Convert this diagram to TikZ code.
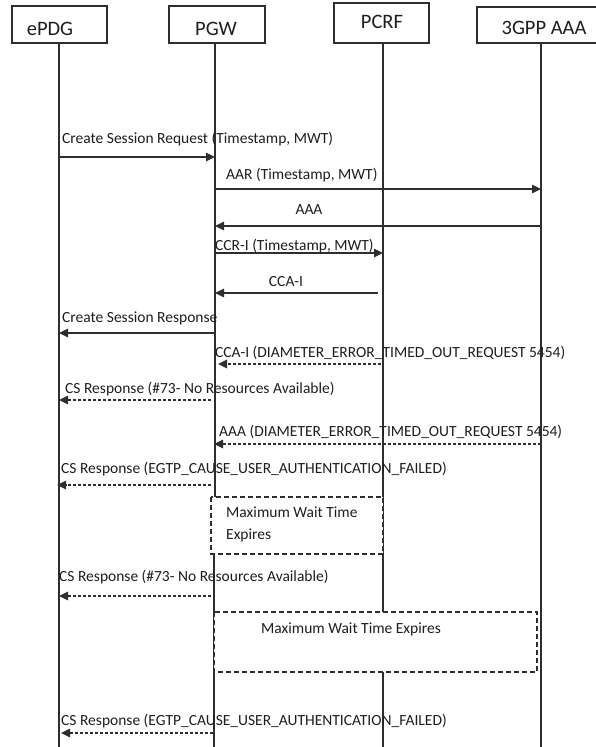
\documentclass[tikz,border=0pt]{standalone}
\usepackage{fontspec}
\setmainfont{Carlito}
\usetikzlibrary{arrows.meta}
\definecolor{ln}{HTML}{2E2E2E}
\definecolor{tx}{HTML}{1E1E1E}
\tikzset{
  actor/.style={draw=ln, line width=1.3pt, fill=white, inner sep=0pt},
  hdr/.style={text=tx, font=\fontsize{20.5}{24}\selectfont, inner sep=0pt},
  life/.style={draw=ln, line width=1.2pt},
  msg/.style={draw=ln, line width=1.6pt, -{Triangle[length=9pt,width=8.5pt]}},
  dmsg/.style={draw=ln, line width=1.6pt, dash pattern=on 3pt off 2pt, -{Triangle[length=9pt,width=8.5pt]}},
  lbl/.style={text=tx, font=\fontsize{15.5}{18}\selectfont, inner sep=0pt, anchor=west},
  waitbox/.style={draw=ln, line width=1.4pt, dash pattern=on 5pt off 3pt, fill=white},
}
\begin{document}
\begin{tikzpicture}[x=1pt,y=-1pt]
\useasboundingbox (0,0) rectangle (595,747);
% lifeline anchors
\coordinate (lE) at (59,43);
\coordinate (lP) at (215,43);
\coordinate (lC) at (383,43);
\coordinate (lA) at (541,43);
\coordinate (bE) at (59,747);
\coordinate (bP) at (214,747);
\coordinate (bC) at (383,747);
\coordinate (bA) at (541,747);
% lifelines
\draw[life] (lE) -- (bE);
\draw[life] (lP) -- (lP |- 0,497);
\draw[life] (bP |- 0,554) -- (bP);
\draw[life] (lC) -- (bC);
\draw[life] (lA) -- (bA);
% actor boxes
\draw[actor] (12,6) rectangle (107,43);
\node[hdr] (tE) at (50,29) {ePDG};
\draw[actor] (169,6) rectangle (265,43);
\node[hdr] (tP) at (216,29) {PGW};
\draw[actor] (334,3) rectangle (429,43);
\node[hdr] (tC) at (382,22) {PCRF};
\draw[actor] (477,7) rectangle (605,43);
\node[hdr] (tA) at (544,28) {3GPP AAA};
% messages
\node[lbl] (l1) at (62,139) {Create Session Request (Timestamp, MWT)};
\draw[msg] (lE |- 0,157) -- (lP |- 0,157);
\node[lbl] (l2) at (226,175) {AAR (Timestamp, MWT)};
\draw[msg] (lP |- 0,189) -- (lA |- 0,189);
\node[lbl, anchor=center] (l3) at (309,210) {AAA};
\draw[msg] (lA |- 0,226) -- (lP |- 0,226);
\node[lbl] (l4) at (215,246) {CCR-I (Timestamp, MWT)};
\draw[msg] (lP |- 0,253) -- (lC |- 0,253);
\node[lbl, anchor=center] (l5) at (286,282) {CCA-I};
\draw[msg] ([xshift=-5pt]lC |- 0,293) -- (lP |- 0,293);
\node[lbl] (l6) at (62,318) {Create Session Response};
\draw[msg] (lP |- 0,333) -- (lE |- 0,333);
\node[lbl] (l7) at (215,353) {CCA-I (DIAMETER\_ERROR\_TIMED\_OUT\_REQUEST 5454)};
\draw[dmsg] ([xshift=-2pt]lC |- 0,364) -- ([xshift=3pt]lP |- 0,364);
\node[lbl] (l8) at (65,389) {CS Response (\#73- No Resources Available)};
\draw[dmsg] ([xshift=-4pt]lP |- 0,400) -- (lE |- 0,400);
\node[lbl] (l9) at (219,432) {AAA (DIAMETER\_ERROR\_TIMED\_OUT\_REQUEST 5454)};
\draw[dmsg] (lA |- 0,444) -- ([xshift=-1pt]lP |- 0,444);
\node[lbl] (l10) at (61,469) {CS Response (EGTP\_CAUSE\_USER\_AUTHENTICATION\_FAILED)};
\draw[dmsg] ([xshift=-4pt]lP |- 0,485) -- ([xshift=-2pt]lE |- 0,485);
% first wait box
\draw[waitbox] (211,497) rectangle (383,554);
\node[lbl, align=left, font=\fontsize{15.5}{22}\selectfont] (w1) at (226,524) {Maximum Wait Time\\Expires};
\node[lbl] (l11) at (59,577) {CS Response (\#73- No Resources Available)};
\draw[dmsg] ([xshift=-4pt]lP |- 0,596) -- (lE |- 0,596);
% second wait box
\draw[waitbox] (214,612) rectangle (537,672);
\node[lbl, anchor=center] (w2) at (351,629) {Maximum Wait Time Expires};
\node[lbl] (l12) at (61,721) {CS Response (EGTP\_CAUSE\_USER\_AUTHENTICATION\_FAILED)};
\draw[dmsg] ([xshift=-2pt]lP |- 0,733) -- ([xshift=2pt]lE |- 0,733);
\end{tikzpicture}
\end{document}
